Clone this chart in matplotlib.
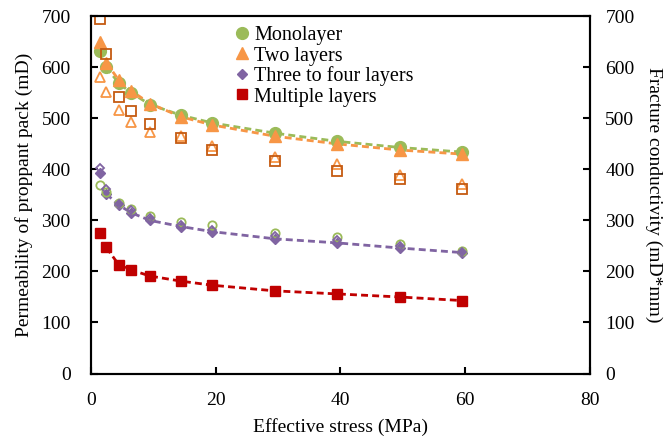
import matplotlib.pyplot as plt

plt.rcParams['font.family'] = ['Liberation Serif', 'DejaVu Serif']
plt.rcParams['font.size'] = 14

# effective stress (MPa)
stress = [1.5, 2.5, 4.5, 6.5, 9.5, 14.5, 19.5, 29.5, 39.5, 49.5, 59.5]

# permeability of proppant pack (mD), filled markers
perm_mono = [633, 600, 569, 550, 527, 506, 491, 471, 455, 443, 434]
perm_two = [649, 609, 575, 554, 529, 503, 487, 465, 450, 438, 430]
perm_three = [392, 352, 330, 315, 300, 288, 278, 264, 256, 246, 237]
perm_multi = [275, 247, 213, 203, 191, 181, 173, 162, 156, 150, 143]

# fracture conductivity (mD*mm), open markers
cond_mono = [370, 356, 334, 322, 309, 297, 291, 275, 267, 254, 240]
cond_two = [582, 552, 516, 493, 473, 466, 446, 425, 410, 390, 371]
cond_three = [402, 361, 333, 320, 304, 292, 282, 270, 261, 250, 239]
cond_multi = [695, 627, 541, 515, 489, 461, 439, 417, 397, 382, 361]

c_green = '#9BBB59'
c_orange = '#F79646'
c_purple = '#8064A2'
c_red = '#C00000'
c_brown = '#C55A11'

fig = plt.figure(figsize=(6.67, 4.41), dpi=100)
ax = fig.add_axes([0.136, 0.153, 0.7486, 0.81])
ax2 = ax.twinx()

# dashed trend lines
ax.plot(stress[1:], perm_mono[1:], '--', color=c_green, lw=2, dashes=(2.5, 1.5), zorder=2)
ax.plot(stress[1:], perm_two[1:], '--', color=c_orange, lw=2, dashes=(2.5, 1.5), zorder=2)
ax.plot(stress[1:], perm_three[1:], '--', color=c_purple, lw=2, dashes=(2.5, 1.5), zorder=2)
ax.plot(stress[1:], perm_multi[1:], '--', color=c_red, lw=2, dashes=(2.5, 1.5), zorder=2)

# conductivity (open markers)
ax2.plot(stress, cond_mono, 'o', ms=6, mfc='none', mec=c_green, mew=1.3)
ax2.plot(stress, cond_two, '^', ms=7.5, mfc='none', mec=c_orange, mew=1.3)
ax2.plot(stress, cond_three, 'D', ms=4.5, mfc='none', mec=c_purple, mew=1.3)
ax2.plot(stress, cond_multi, 's', ms=6.5, mfc='none', mec=c_brown, mew=1.3)

# permeability (filled markers)
h1, = ax.plot(stress, perm_mono, 'o', ms=8.5, color=c_green, zorder=3, label='Monolayer')
h2, = ax.plot(stress, perm_two, '^', ms=8.5, color=c_orange, zorder=3, label='Two layers')
h3, = ax.plot(stress, perm_three, 'D', ms=5.5, color=c_purple, zorder=3, label='Three to four layers')
h4, = ax.plot(stress, perm_multi, 's', ms=7.5, color=c_red, zorder=3, label='Multiple layers')

ax.set_xlim(0, 80)
ax.set_ylim(0, 700)
ax2.set_ylim(0, 700)
ax.set_xticks(range(0, 81, 20))
ax.set_yticks(range(0, 701, 100))
ax2.set_yticks(range(0, 701, 100))

for a in (ax, ax2):
    for s in a.spines.values():
        s.set_linewidth(1.5)
ax.tick_params(axis='x', direction='in', length=5, width=1.5, labelsize=14, pad=13)
ax.tick_params(axis='y', direction='in', length=5, width=1.5, labelsize=14, pad=14.5)
ax2.tick_params(direction='in', length=5, width=1.5, labelsize=14, pad=11)

ax.set_xlabel('Effective stress (MPa)', fontsize=14, labelpad=7)
ax.set_ylabel('Permeability of proppant pack (mD)', fontsize=14, labelpad=6)
ax2.set_ylabel('Fracture conductivity (mD*mm)', fontsize=14, rotation=270, labelpad=20)

leg = ax.legend(handles=[h1, h2, h3, h4], loc='upper left',
                bbox_to_anchor=(0.291, 0.972), frameon=False, fontsize=14.5,
                handlelength=0.6, handletextpad=0.3, labelspacing=0.05,
                borderpad=0, borderaxespad=0)
leg.set_zorder(10)

fig.savefig('out.png', dpi=100)
